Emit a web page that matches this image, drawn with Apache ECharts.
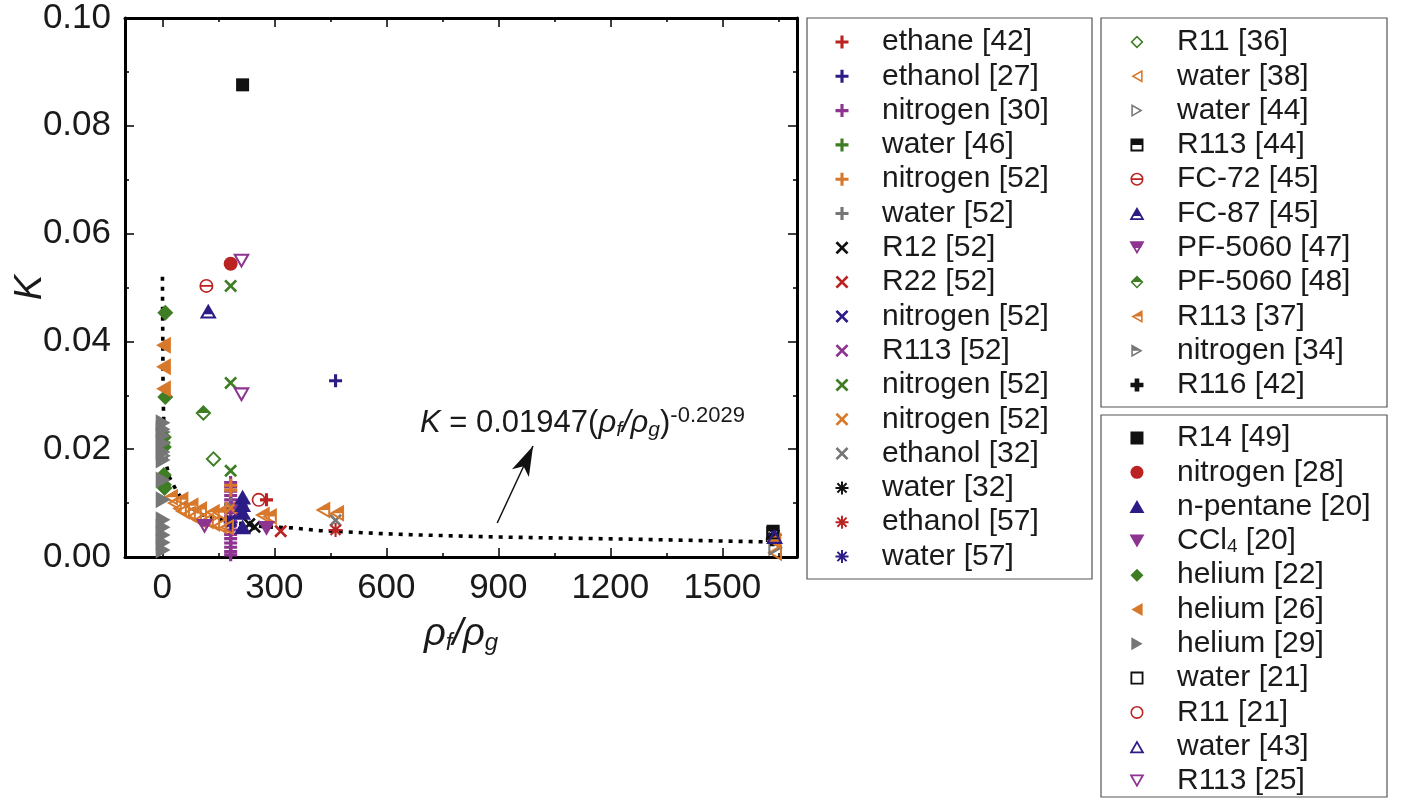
<!DOCTYPE html>
<html><head><meta charset="utf-8">
<script src="https://cdn.jsdelivr.net/npm/echarts@6/dist/echarts.min.js"></script>
<style>html,body{margin:0;padding:0;background:#fff}#c{width:1405px;height:802px}</style>
</head><body><div id="c"></div>
<script>
// ---------------- data ----------------
const xMajorTicks = [0, 300, 600, 900, 1200, 1500];
const xMinorTicks = [150, 450, 750, 1050, 1350, 1650];

const ethane42    = [[279, 0.0106]];
const ethanol27   = [[464, 0.0327]];
const nitrogen30  = [[183,0.0138],[183,0.0130],[183,0.0122],[183,0.0114],[183,0.0106],[183,0.0098],[183,0.0090],[183,0.0082],[183,0.0074],[183,0.0066],[183,0.0058],[183,0.0050],[183,0.0042],[183,0.0034],[183,0.0026],[183,0.0018],[183,0.0010],[183,0.0004]];
const water46     = [[4, 0.0212]];
const nitrogen52a = [[183, 0.0133], [183, 0.0124]];
const water52     = [[183, 0.0098]];
const r12_52      = [[247, 0.0056], [233, 0.0061]];
const r22_52      = [[317, 0.0048]];
const nitrogen52b = [[183, 0.0069]];
const r113_52     = [[212, 0.0087], [196, 0.0093]];
const nitrogen52c = [[183, 0.0503], [183, 0.0323], [183, 0.0160]];
const nitrogen52d = [[183, 0.0091]];
const ethanol32   = [[464, 0.0068]];
const water32     = [[1637, 0.0036]];
const ethanol57   = [[464, 0.0050]];
const water57     = [[1640, 0.0041], [183, 0.0064]];

const r11_36      = [[137, 0.0182]];
const water38     = [[32,0.0100],[46,0.0090],[54,0.0085],[70,0.0080],[86,0.0076],[99,0.0068],[118,0.0067],[135,0.0062],[153,0.0058],[172,0.0055],[1640,0.0008]];
const water44     = [[1643, 0.0017]];
const r113_44     = [[1636, 0.0048]];
const fc72_45     = [[118, 0.0503]];
const fc87_45     = [[123, 0.0456]];
const pf5060_47   = [[113, 0.0057]];
const pf5060_48   = [[110, 0.0267]];
const r113_37     = [[22,0.0111],[50,0.0106],[77,0.0095],[100,0.0088],[134,0.0083],[153,0.0082],[268,0.0078],[287,0.0075],[430,0.0087],[467,0.0081]];
const nitrogen34  = [[3, 0.0232], [3, 0.0188]];
const r116_42     = [[1634, 0.0032]];

const r14_49      = [[215, 0.0876]];
const nitrogen28  = [[183, 0.0544]];
const npentane20  = [[215,0.0111],[215,0.0097],[215,0.0083],[215,0.0056]];
const ccl4_20     = [[279, 0.0053]];
const helium22    = [[8,0.0453],[8,0.0297],[4,0.0222],[4,0.0204],[4,0.0152],[4,0.0134],[6,0.0128]];
const helium26    = [[3,0.0393],[3,0.0353],[3,0.0312],[1638,0.0030]];
const helium29    = [[2,0.0249],[2,0.0237],[2,0.0225],[2,0.0211],[2,0.0195],[2,0.0180],[2,0.0143],[2,0.0106],[2,0.0069],[2,0.0055],[2,0.0041],[2,0.0027],[2,0.0013]];
const water21     = [[1635, 0.0045]];
const r11_21      = [[258, 0.0106]];
const water43     = [[1640, 0.0038]];
const r113_25     = [[212, 0.0549], [212, 0.0301]];

// dotted correlation curve
const fitCurve = [[0.3,0.052],[2,0.030],[6,0.020],[12,0.0168],[19,0.0148],[37,0.0124],[54,0.0106],[77,0.0091],[108,0.0078],[145,0.0072],[180,0.0065],[242,0.0059],[273,0.0056],[349,0.0054],[421,0.0049],[510,0.0046],[601,0.0043],[682,0.0041],[905,0.0037],[1262,0.0033],[1621,0.0028],[1650,0.0027]];
const arrowFrom = [897, 0.0063];
const arrowTo   = [993, 0.0206];

// ---------------- marker shapes ----------------
function P(pts){return 'M'+pts.map(p=>(+p[0].toFixed(2))+' '+(+p[1].toFixed(2))).join(' L')+' Z';}
function rot(pts,deg){const a=deg*Math.PI/180,c=Math.cos(a),s=Math.sin(a);return pts.map(([x,y])=>[50+(x-50)*c-(y-50)*s,50+(x-50)*s+(y-50)*c]);}
function plusPts(t){const a=50-t/2,b=50+t/2;return [[a,0],[b,0],[b,a],[100,a],[100,b],[b,b],[b,100],[a,100],[a,b],[0,b],[0,a],[a,a]];}
function triInfo(t){const d=(p,q)=>Math.hypot(p[0]-q[0],p[1]-q[1]);const a=d(t[1],t[2]),b=d(t[0],t[2]),c=d(t[0],t[1]);const s=a+b+c;
  const area=Math.abs((t[1][0]-t[0][0])*(t[2][1]-t[0][1])-(t[2][0]-t[0][0])*(t[1][1]-t[0][1]))/2;
  return {c:[(a*t[0][0]+b*t[1][0]+c*t[2][0])/s,(a*t[0][1]+b*t[1][1]+c*t[2][1])/s], r:area/(s/2)};}
function ringP(pts,c,r,w){const k=1-w/r;const inner=pts.map(p=>[c[0]+(p[0]-c[0])*k,c[1]+(p[1]-c[1])*k]).reverse();return P(pts)+' '+P(inner);}
function triRing(t,w){const i=triInfo(t);return ringP(t,i.c,i.r,w);}
const W = 12;
const TU=[[50,0],[100,87],[0,87]], TD=[[0,0],[100,0],[50,87]], TL=[[0,50],[87,0],[87,100]], TR=[[0,0],[87,50],[0,100]];
const SQ=[[0,0],[100,0],[100,100],[0,100]], DM=[[50,0],[100,50],[50,100],[0,50]];
function circleRing(w){const r=50-w;return 'M0 50 A50 50 0 1 1 100 50 A50 50 0 1 1 0 50 Z M'+w+' 50 A'+r+' '+r+' 0 1 0 '+(100-w)+' 50 A'+r+' '+r+' 0 1 0 '+w+' 50 Z';}
const SHAPE = {
  plus:     'path://'+P(plusPts(24)),
  plusBold: 'path://'+P(plusPts(36)),
  cross:    'path://'+P(rot(plusPts(17),45)),
  star:     'path://'+P(plusPts(15))+' '+P(rot(plusPts(15),45)),
  diamondOpen: 'path://'+ringP(DM,[50,50],35.36,W),
  diamondHalf: 'path://'+ringP(DM,[50,50],35.36,W)+' '+P([[50,0],[100,50],[0,50]]),
  diamond:  'path://'+P(DM),
  leftOpen: 'path://'+triRing(TL,W),
  leftHalf: 'path://'+triRing(TL,W)+' '+P([[0,50],[87,0],[87,50]]),
  left:     'path://'+P(TL),
  rightOpen:'path://'+triRing(TR,W),
  rightHalf:'path://'+triRing(TR,W)+' '+P([[0,0],[87,50],[0,50]]),
  right:    'path://'+P(TR),
  upOpen:   'path://'+triRing(TU,W),
  upHalf:   'path://'+triRing(TU,W)+' '+P([[50,0],[85,61],[15,61]]),
  up:       'path://'+P(TU),
  downOpen: 'path://'+triRing(TD,W),
  downHalf: 'path://'+triRing(TD,W)+' '+P([[0,0],[100,0],[76,45],[24,45]]),
  down:     'path://'+P(TD),
  squareOpen:'path://'+ringP(SQ,[50,50],50,W+2),
  squareHalf:'path://'+ringP(SQ,[50,50],50,W+2)+' '+P([[0,0],[100,0],[100,50],[0,50]]),
  square:   'path://'+P(SQ),
  circleOpen:'path://'+circleRing(W),
  circleBar:'path://'+circleRing(W)+' M12 43 L88 43 L88 57 L12 57 Z',
  circle:   'circle'
};
const C = {red:'#bb2222', indigo:'#2c1c86', purple:'#8c3490', green:'#3f7d24', orange:'#d8782b', gray:'#767676', black:'#111111'};

// series definitions: [legend label, data, shape, colour, size]
const box1 = [
  ['ethane [42]', ethane42, 'plus', 'red', 13],
  ['ethanol [27]', ethanol27, 'plus', 'indigo', 13],
  ['nitrogen [30]', nitrogen30, 'plus', 'purple', 13],
  ['water [46]', water46, 'plus', 'green', 13],
  ['nitrogen [52]', nitrogen52a, 'plus', 'orange', 13],
  ['water [52]', water52, 'plus', 'gray', 13],
  ['R12 [52]', r12_52, 'cross', 'black', 13],
  ['R22 [52]', r22_52, 'cross', 'red', 13],
  ['nitrogen [52]', nitrogen52b, 'cross', 'indigo', 13],
  ['R113 [52]', r113_52, 'cross', 'purple', 13],
  ['nitrogen [52]', nitrogen52c, 'cross', 'green', 13],
  ['nitrogen [52]', nitrogen52d, 'cross', 'orange', 13],
  ['ethanol [32]', ethanol32, 'cross', 'gray', 13],
  ['water [32]', water32, 'star', 'black', 14],
  ['ethanol [57]', ethanol57, 'star', 'red', 14],
  ['water [57]', water57, 'star', 'indigo', 14]
];
const box2 = [
  ['R11 [36]', r11_36, 'diamondOpen', 'green', 16],
  ['water [38]', water38, 'leftOpen', 'orange', 17],
  ['water [44]', water44, 'rightOpen', 'gray', 17],
  ['R113 [44]', r113_44, 'squareHalf', 'black', 13],
  ['FC-72 [45]', fc72_45, 'circleBar', 'red', 14],
  ['FC-87 [45]', fc87_45, 'upHalf', 'indigo', 17],
  ['PF-5060 [47]', pf5060_47, 'downHalf', 'purple', 17],
  ['PF-5060 [48]', pf5060_48, 'diamondHalf', 'green', 16],
  ['R113 [37]', r113_37, 'leftHalf', 'orange', 17],
  ['nitrogen [34]', nitrogen34, 'rightHalf', 'gray', 17],
  ['R116 [42]', r116_42, 'plusBold', 'black', 13]
];
const box3 = [
  ['R14 [49]', r14_49, 'square', 'black', 13],
  ['nitrogen [28]', nitrogen28, 'circle', 'red', 14],
  ['n-pentane [20]', npentane20, 'up', 'indigo', 17],
  ['CCl4 [20]', ccl4_20, 'down', 'purple', 17],
  ['helium [22]', helium22, 'diamond', 'green', 16],
  ['helium [26]', helium26, 'left', 'orange', 17],
  ['helium [29]', helium29, 'right', 'gray', 17],
  ['water [21]', water21, 'squareOpen', 'black', 13],
  ['R11 [21]', r11_21, 'circleOpen', 'red', 14],
  ['water [43]', water43, 'upOpen', 'indigo', 17],
  ['R113 [25]', r113_25, 'downOpen', 'purple', 17]
];

// ---------------- build ----------------
const FONT = 'Liberation Sans, Arial, Helvetica, sans-serif';
let uid = 0;
function mk(def){
  const [label, data, shape, col, size] = def;
  const name = label + '#' + (uid++);
  return {name, series: {
    type:'scatter', name, data, symbol: SHAPE[shape], symbolSize: size, symbolKeepAspect:true,
    itemStyle:{color:C[col], borderWidth:0, opacity:1}, emphasis:{disabled:true}, z:3
  }};
}
const g1 = box1.map(mk), g2 = box2.map(mk), g3 = box3.map(mk);
const series = [{
  type:'line', name:'fit', data: fitCurve, showSymbol:false, symbol:'none', smooth:false,
  lineStyle:{color:'#000', width:3.6, type:[4,6]}, z:2, silent:true,
  markLine:{silent:true, symbol:['none','arrow'], symbolSize:[14,30],
    lineStyle:{color:'#111', width:1.5, type:'solid'}, label:{show:false},
    data:[[{coord:arrowFrom},{coord:arrowTo}]]}
}].concat(g1.map(o=>o.series), g2.map(o=>o.series), g3.map(o=>o.series));

function legendCfg(group, left, top){
  return {
    data: group.map(o=>o.name), orient:'vertical', left, top, padding:0,
    itemWidth:70, itemHeight:13, itemGap:4.3, selectedMode:false,
    formatter: n => n.split('#')[0].replace('CCl4', 'CCl{sub|4}'),
    textStyle:{fontFamily:FONT, fontSize:30, color:'#1a1a1a', lineHeight:30,
      rich:{sub:{fontFamily:FONT, fontSize:19, lineHeight:10, verticalAlign:'bottom', color:'#1a1a1a'}}}
  };
}

const axisLineStyle = {color:'#000', width:3};
const xBase = {type:'value', min:-100, max:1700, splitLine:{show:false}, gridIndex:0};
const option = {
  animation:false,
  backgroundColor:'#fff',
  grid:{left:125, right:608, top:18, bottom:245, containLabel:false},
  xAxis:[
    Object.assign({}, xBase, {position:'bottom', axisLine:{show:true, lineStyle:axisLineStyle, onZero:false},
      axisTick:{show:true, inside:true, length:9, customValues:xMajorTicks, lineStyle:{color:'#000', width:1.5}},
      axisLabel:{show:true, customValues:xMajorTicks, margin:14, fontFamily:FONT, fontSize:35, color:'#1a1a1a', formatter:v=>String(v)},
      name:'{r|ρ}{s|f}{r|/ρ}{s|g}', nameLocation:'middle', nameGap:56, nameMoveOverlap:false,
      nameTextStyle:{fontFamily:FONT, fontSize:38, color:'#1a1a1a', rich:{
        r:{fontFamily:FONT, fontSize:38, fontStyle:'italic', color:'#1a1a1a', lineHeight:42},
        s:{fontFamily:FONT, fontSize:24, fontStyle:'italic', color:'#1a1a1a', lineHeight:14, verticalAlign:'bottom'}}}}),
    Object.assign({}, xBase, {position:'bottom', axisLine:{show:false, onZero:false},
      axisTick:{show:true, inside:true, length:4, customValues:xMinorTicks, lineStyle:{color:'#000', width:1.5}},
      axisLabel:{show:false}}),
    Object.assign({}, xBase, {position:'top', axisLine:{show:true, lineStyle:axisLineStyle, onZero:false},
      axisTick:{show:true, inside:true, length:9, customValues:xMajorTicks, lineStyle:{color:'#000', width:1.5}},
      axisLabel:{show:false}}),
    Object.assign({}, xBase, {position:'top', axisLine:{show:false, onZero:false},
      axisTick:{show:true, inside:true, length:4, customValues:xMinorTicks, lineStyle:{color:'#000', width:1.5}},
      axisLabel:{show:false}})
  ],
  yAxis:[
    {type:'value', min:0, max:0.1, interval:0.02, position:'left', splitLine:{show:false},
     axisLine:{show:true, lineStyle:axisLineStyle, onZero:false},
     axisTick:{show:true, inside:true, length:9, lineStyle:{color:'#000', width:1.5}},
     minorTick:{show:true, splitNumber:2, length:4, lineStyle:{color:'#000', width:1.5}},
     minorSplitLine:{show:false},
     axisLabel:{show:true, margin:14, fontFamily:FONT, fontSize:35, color:'#1a1a1a', formatter:v=>v.toFixed(2)},
     name:'K', nameLocation:'middle', nameGap:76, nameRotate:90, nameMoveOverlap:false,
     nameTextStyle:{fontFamily:FONT, fontSize:38, fontStyle:'italic', color:'#1a1a1a'}},
    {type:'value', min:0, max:0.1, interval:0.02, position:'right', splitLine:{show:false},
     axisLine:{show:true, lineStyle:axisLineStyle, onZero:false},
     axisTick:{show:true, inside:true, length:9, lineStyle:{color:'#000', width:1.5}},
     minorTick:{show:true, splitNumber:2, length:4, lineStyle:{color:'#000', width:1.5}},
     minorSplitLine:{show:false},
     axisLabel:{show:false}}
  ],
  legend:[legendCfg(g1, 835.5, 27), legendCfg(g2, 1129.5, 27), legendCfg(g3, 1129.5, 423)],
  graphic:[
    {type:'rect', shape:{x:807, y:18, width:285, height:561}, style:{fill:'none', stroke:'#555', lineWidth:1.2}, z:-1, silent:true},
    {type:'rect', shape:{x:1101, y:18, width:286, height:389}, style:{fill:'none', stroke:'#555', lineWidth:1.2}, z:-1, silent:true},
    {type:'rect', shape:{x:1101, y:415, width:286, height:382}, style:{fill:'none', stroke:'#555', lineWidth:1.2}, z:-1, silent:true},
    {type:'text', x:420, y:423, silent:true, z:10, style:{
      text:'{k|K} = 0.01947({r|ρ}{s|f}{r|/ρ}{s|g}){p|-0.2029}',
      verticalAlign:'middle', align:'left',
      font:'31px ' + FONT, fill:'#1a1a1a', lineHeight:36,
      rich:{
        k:{fontFamily:FONT, fontSize:31, fontStyle:'italic', lineHeight:36},
        r:{fontFamily:FONT, fontSize:31, fontStyle:'italic', lineHeight:36},
        s:{fontFamily:FONT, fontSize:21, fontStyle:'italic', lineHeight:16, verticalAlign:'bottom'},
        p:{fontFamily:FONT, fontSize:22, lineHeight:29, verticalAlign:'top'}
      }}}
  ],
  series
};
const chart = echarts.init(document.getElementById('c'), null, {renderer:'canvas'});
chart.setOption(option);
</script>
</body></html>
